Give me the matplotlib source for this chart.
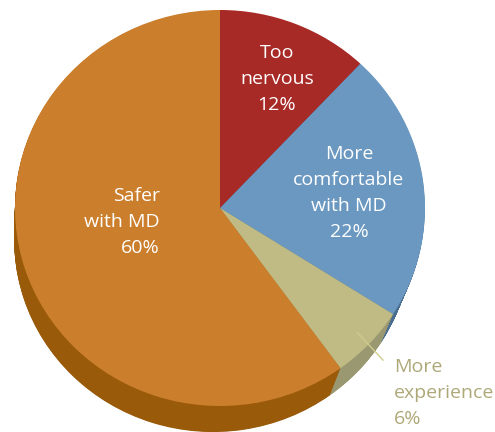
import numpy as np
import matplotlib
matplotlib.use("Agg")
import matplotlib.pyplot as plt

# data
labels = ["Too\nnervous", "More\ncomfortable\nwith MD", "More\nexperience", "Safer\nwith MD"]
values = [12, 22, 6, 60]
top_colors = ["#A82A26", "#6A98C0", "#C0BB84", "#CB7E2B"]
side_colors = ["#7A1C18", "#4A6E90", "#9A9870", "#995A0A"]

W, H = 495, 432
cx, cy = 220, 208      # centre of the top face in pixels
rx, ry = 205, 198      # radii of the top face in pixels

fig = plt.figure(figsize=(W / 100, H / 100), dpi=100)
ax = fig.add_axes([0, 0, 1, 1])

# side of the pie: stack darker, slightly smaller pies shifted down-left
off_x, off_y = -7 / rx, -32 / ry
shrink = 0.03
n_layers = 50
for k in range(n_layers, 0, -1):
    t = k / n_layers
    ax.pie(values, colors=side_colors, startangle=90, counterclock=False,
           center=(off_x * t, off_y * t), radius=1 - shrink * t,
           wedgeprops=dict(linewidth=0))

# top face
wedges, _ = ax.pie(values, colors=top_colors, startangle=90, counterclock=False,
                   center=(0, 0), radius=1, wedgeprops=dict(linewidth=0))

ax.set_aspect("auto")
ax.set_xlim(-cx / rx, (W - cx) / rx)
ax.set_ylim(-(H - cy) / ry, cy / ry)
ax.axis("off")

font = ["Open Sans", "DejaVu Sans"]
fs = 14
ls = 1.55
pct = [f"{v}%" for v in values]

ax.text(0.278, 0.652, labels[0] + "\n" + pct[0], color="white", ha="center",
        va="center", fontsize=fs, family=font, linespacing=ls)
ax.text(0.629, 0.076, labels[1] + "\n" + pct[1], color="white", ha="center",
        va="center", fontsize=fs, family=font, linespacing=ls)
ax.text(-0.293, -0.071, labels[3] + "\n" + pct[3], color="white", ha="right",
        va="center", multialignment="right", fontsize=fs, family=font,
        linespacing=ls)

# outside label for the small slice, with leader line
w = wedges[2]
mid = np.deg2rad((w.theta1 + w.theta2) / 2)
start = (0.92 * np.cos(mid), 0.92 * np.sin(mid))
end = (0.795, -0.768)
ax.plot([start[0], end[0]], [start[1], end[1]], color="#CFCB8E", lw=1)
ax.text(0.849, -0.934, labels[2] + "\n" + pct[2], ha="left", va="center",
        color="#AEA878", fontsize=fs, family=font, linespacing=ls)

fig.savefig("out.png", dpi=100)
